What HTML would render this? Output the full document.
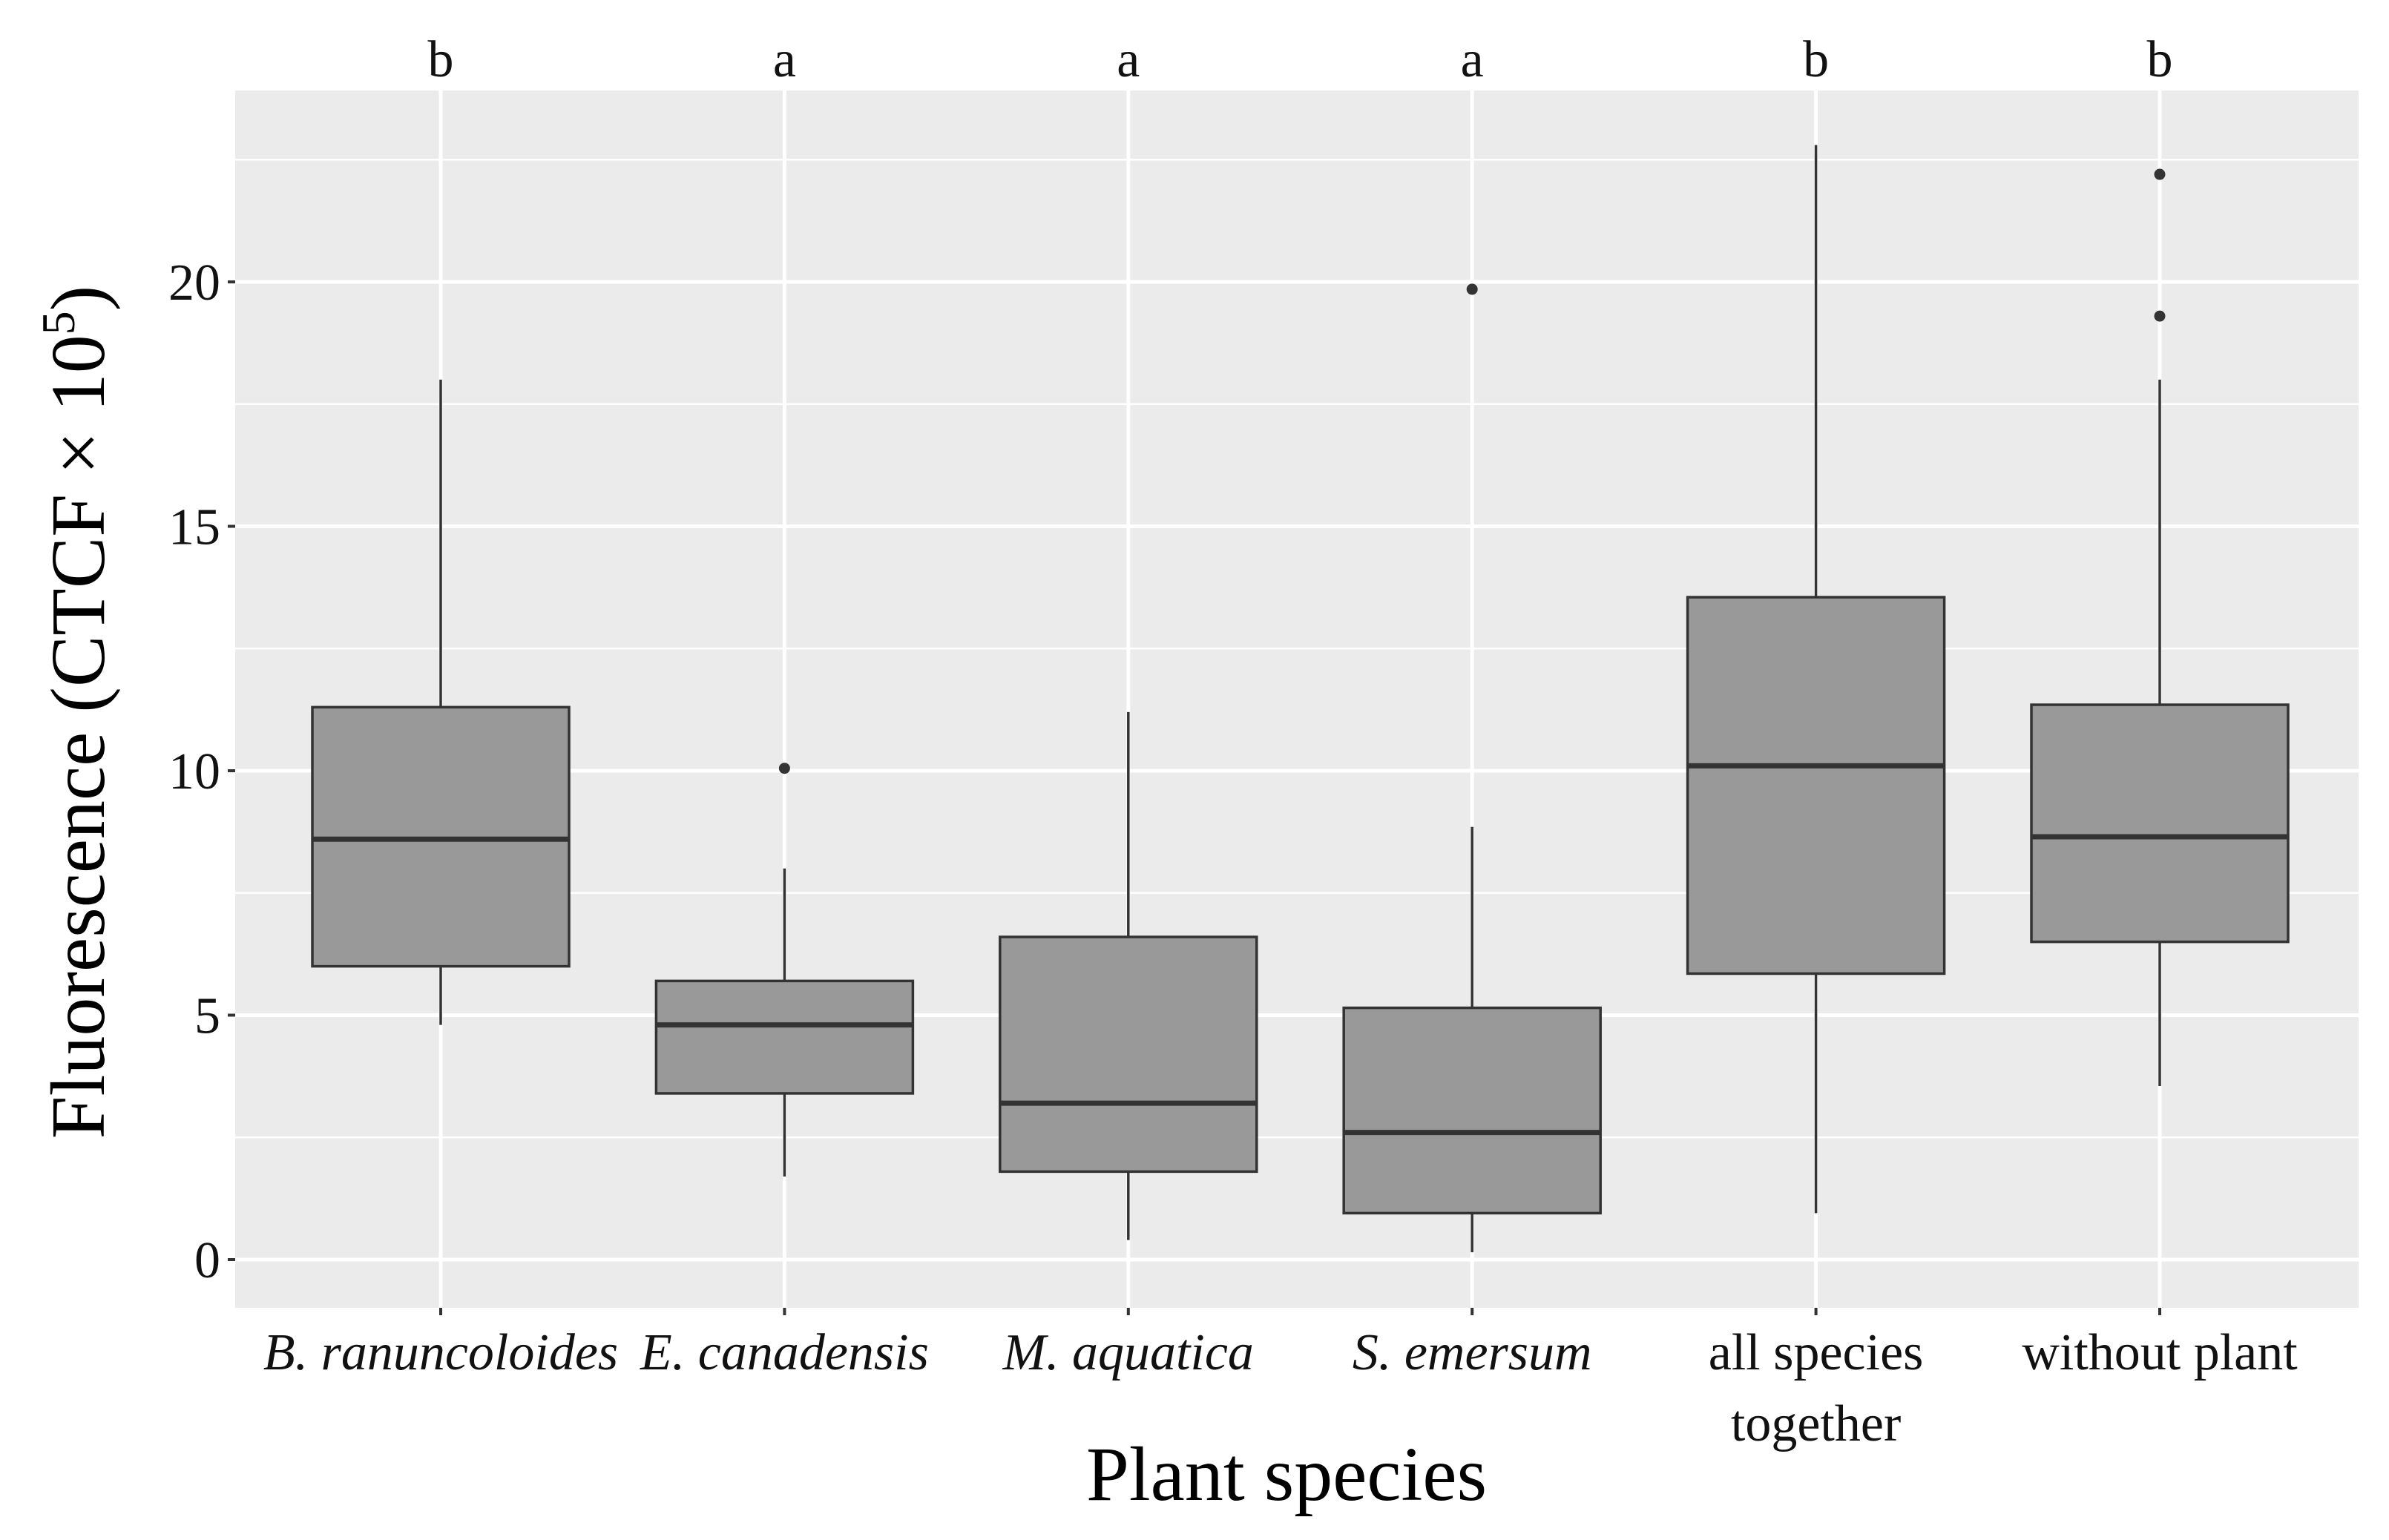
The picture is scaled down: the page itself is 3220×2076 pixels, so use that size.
<!DOCTYPE html>
<html><head><meta charset="utf-8"><style>
html,body{margin:0;padding:0;background:#fff;}
svg{display:block;font-family:"Liberation Serif",serif;}
</style></head><body>
<svg id="chart" width="3220" height="2076" viewBox="0 0 3220 2076">
<rect x="317" y="122" width="2862" height="1641" fill="#ebebeb"/>
<g id="grid"></g><g id="boxes"></g><g id="axes"></g>
<text x="1734" y="2022" font-size="104" text-anchor="middle">Plant species</text>
<text transform="translate(140,960) rotate(-90)" font-size="104" text-anchor="middle">Fluorescence (CTCF × 10<tspan dy="-40" font-size="64">5</tspan><tspan dy="40">)</tspan></text>
</svg>
<script>
const categories=["B. ranuncoloides","E. canadensis","M. aquatica","S. emersum","all species|together","without plant"];
const italic=[true,true,true,true,false,false];
const groupLetters=["b","a","a","a","b","b"];
const whiskerLow=[4.8,1.7,0.4,0.15,0.95,3.55];
const q1=[6.0,3.4,1.8,0.95,5.85,6.5];
const median=[8.6,4.8,3.2,2.6,10.1,8.65];
const q3=[11.3,5.7,6.6,5.15,13.55,11.35];
const whiskerHigh=[18.0,8.0,11.2,8.85,22.8,18.0];
const outliers=[[],[10.05],[],[19.85],[],[19.3,22.2]];
const yTicks=[0,5,10,15,20];

const NS="http://www.w3.org/2000/svg";
const y0=1698,pxPerUnit=65.9;
const Y=v=>y0-v*pxPerUnit;
const X=i=>594+i*463.4;
const L=317,R=3179,T=122,B=1763,half=173;
function mk(parent,tag,attrs){const e=document.createElementNS(NS,tag);for(const k in attrs)e.setAttribute(k,attrs[k]);document.getElementById(parent).appendChild(e);return e;}
// grid
for(let v=2.5;v<=22.5;v+=5){const g=mk('grid','line',{x1:L,x2:R,y1:Y(v),y2:Y(v),stroke:'#fff','stroke-width':2.5});

}
yTicks.forEach(v=>{const g=mk('grid','line',{x1:L,x2:R,y1:Y(v),y2:Y(v),stroke:'#fff','stroke-width':5});


const tk=mk('axes','line',{x1:L-10,x2:L,y1:Y(v),y2:Y(v),stroke:'#333','stroke-width':4});


const t=mk('axes','text',{x:L-20,y:Y(v)+24,'font-size':70,'text-anchor':'end',fill:'#111'});t.textContent=v;

});
categories.forEach((c,i)=>{const x=X(i);
const g=mk('grid','line',{x1:x,x2:x,y1:T,y2:B,stroke:'#fff','stroke-width':5});


const tk=mk('axes','line',{x1:x,x2:x,y1:B,y2:B+10,stroke:'#333','stroke-width':4});


const lines=c.split('|');
lines.forEach((ln,j)=>{const t=mk('axes','text',{x:x,y:1846+j*96,'font-size':70,'text-anchor':'middle',fill:'#111','font-style':italic[i]?'italic':'normal'});t.textContent=ln;

});
const lt=mk('axes','text',{x:x,y:103,'font-size':70,'text-anchor':'middle',fill:'#111'});lt.textContent=groupLetters[i];


const w1=mk('boxes','line',{x1:x,x2:x,y1:Y(whiskerLow[i]),y2:Y(q1[i]),stroke:'#333','stroke-width':3.5});


const w2=mk('boxes','line',{x1:x,x2:x,y1:Y(q3[i]),y2:Y(whiskerHigh[i]),stroke:'#333','stroke-width':3.5});


const b=mk('boxes','rect',{x:x-half,y:Y(q3[i]),width:2*half,height:Y(q1[i])-Y(q3[i]),fill:'#999999',stroke:'#333','stroke-width':3.5});


const m=mk('boxes','line',{x1:x-half,x2:x+half,y1:Y(median[i]),y2:Y(median[i]),stroke:'#333','stroke-width':7});


outliers[i].forEach(o=>{const p=mk('boxes','circle',{cx:x,cy:Y(o),r:7.5,fill:'#333'});

});
});
</script>
</body></html>
